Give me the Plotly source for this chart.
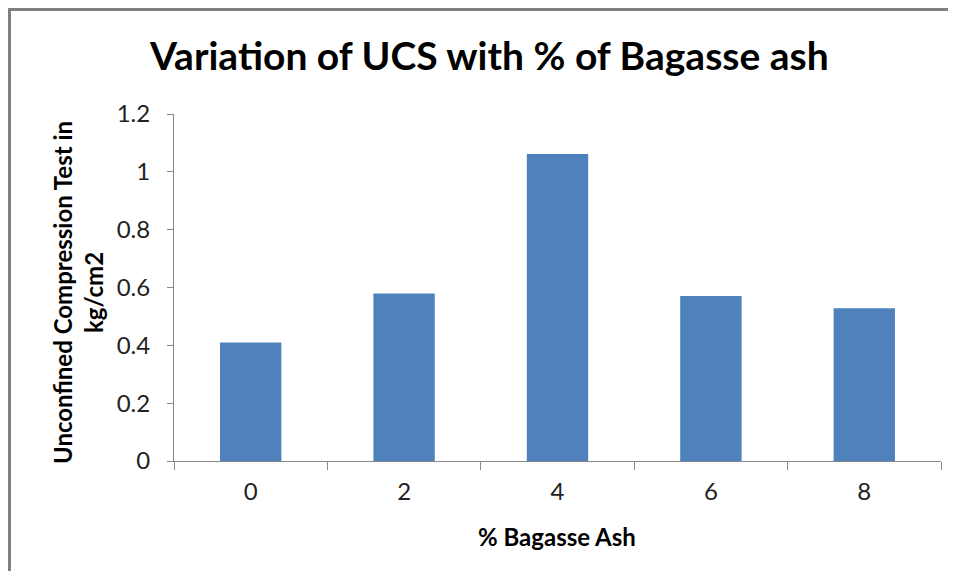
import plotly.graph_objects as go

categories = ["0", "2", "4", "6", "8"]
ucs_values = [0.41, 0.579, 1.062, 0.571, 0.528]
y_ticks = [0, 0.2, 0.4, 0.6, 0.8, 1.0, 1.2]
y_tick_labels = ["0", "0.2", "0.4", "0.6", "0.8", "1", "1.2"]

# page body has an 8px margin; work in figure coordinates (page - 8)
W, H = 940, 563
L, R, T, B = 166, 7, 106, 110
pw, ph = W - L - R, H - T - B

def px_x(p):
    return (p - L) / pw

def px_y(p):
    return (H - B - p) / ph

FONT = "Lato"

fig = go.Figure()
fig.add_trace(go.Bar(
    x=categories, y=ucs_values,
    marker=dict(color="#4F81BD", line=dict(width=0)),
    width=0.4,
))

border = dict(color="#808080", width=3)

fig.update_layout(
    width=W, height=H,
    margin=dict(l=L, r=R, t=T, b=B, pad=0),
    paper_bgcolor="white", plot_bgcolor="white",
    showlegend=False,
    xaxis=dict(
        type="category",
        showline=True, linecolor="#888888", linewidth=1,
        ticks="outside", tickson="boundaries", ticklen=8, tickcolor="#888888",
        tickfont=dict(family=FONT, size=24, color="#222222"),
        ticklabelstandoff=9,
        showgrid=False, zeroline=False,
    ),
    yaxis=dict(
        range=[0, 1.2],
        tickvals=y_ticks, ticktext=y_tick_labels,
        showline=True, linecolor="#888888", linewidth=1,
        ticks="outside", ticklen=6, tickcolor="#888888",
        tickfont=dict(family=FONT, size=24, color="#222222"),
        ticklabelstandoff=12,
        showgrid=False, zeroline=False,
    ),
    annotations=[
        dict(
            text="<b>Variation of UCS with % of Bagasse ash</b>",
            xref="paper", yref="paper",
            x=px_x(481), y=px_y(47),
            xanchor="center", yanchor="middle", showarrow=False,
            font=dict(family=FONT, size=39, color="black"),
        ),
        dict(
            text="<b>% Bagasse Ash</b>",
            xref="paper", yref="paper",
            x=px_x(549), y=px_y(528),
            xanchor="center", yanchor="middle", showarrow=False,
            font=dict(family=FONT, size=24, color="black"),
        ),
        dict(
            text="<b>Unconfined Compression Test in<br>kg/cm2</b>",
            textangle=-90,
            xref="paper", yref="paper",
            x=px_x(70), y=px_y(284),
            xanchor="center", yanchor="middle",
            showarrow=False,
            font=dict(family=FONT, size=24, color="black"),
        ),
    ],
    shapes=[
        dict(type="line", xref="paper", yref="paper",
             x0=px_x(0), y0=px_y(1.5), x1=px_x(W + 20), y1=px_y(1.5),
             line=border, layer="below"),
        dict(type="line", xref="paper", yref="paper",
             x0=px_x(1.5), y0=px_y(0), x1=px_x(1.5), y1=px_y(H + 20),
             line=border, layer="below"),
    ],
)

fig.write_html("out.html")
